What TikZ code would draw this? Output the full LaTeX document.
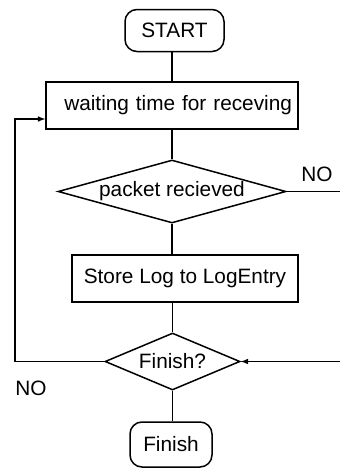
\documentclass[tikz,border=0pt]{standalone}
\usepackage{fontspec}
\setmainfont{Liberation Sans}
\usetikzlibrary{shapes.geometric}

\begin{document}
\begin{tikzpicture}[x=1pt, y=-1pt, line width=1.5pt,
        term/.style={draw, rounded corners=12pt, inner sep=0pt},
        proc/.style={draw, inner sep=0pt},
        cond/.style={draw, diamond, inner sep=0pt},
        font=\fontsize{20.8}{25}\selectfont]
        \useasboundingbox (0,0) rectangle (340,469);
        \node[term, minimum width=99pt, minimum height=42pt] (start) at (174.5,30.5) {START};
        \node[proc, minimum width=252pt, minimum height=47pt, text width=240pt, align=right, inner xsep=6pt] (wait) at (172,105.5) {waiting time for receving};
        \node[cond, shape aspect=3.62, minimum width=228pt, minimum height=63pt] (pkt) at (172,191.5) {packet recieved};
        \node[proc, minimum width=226pt, minimum height=47pt] (store) at (185,278.5) {Store Log to LogEntry};
        \node[cond, shape aspect=2.37, minimum width=135pt, minimum height=57pt] (fin) at (172.5,361.5) {Finish?};
        \node[term, minimum width=82pt, minimum height=45pt] (finish) at (171,444.5) {Finish};
        \coordinate (loopc) at (15,119);
        \coordinate (pktr) at (340,191.5);
        \coordinate (finr) at (340,361.5);
        \node (noa) at (317,174) {NO};
        \node (nob) at (31,388) {NO};
        \draw (start.south -| wait.north) -- (wait.north);
        \draw (wait.south -| pkt.north) -- (pkt.north);
        \draw (pkt.south) -- (store.north -| pkt.south);
        \draw (store.south -| fin.north) -- (fin.north);
        \draw (fin.south) -- (finish.north -| fin.south);
        \draw[-latex] (fin.west) -| (loopc) -- (loopc -| wait.west);
        \draw (pkt.east) -- (pktr);
        \draw[-latex] (finr) -- (fin.east);
    \end{tikzpicture}
\end{document}
